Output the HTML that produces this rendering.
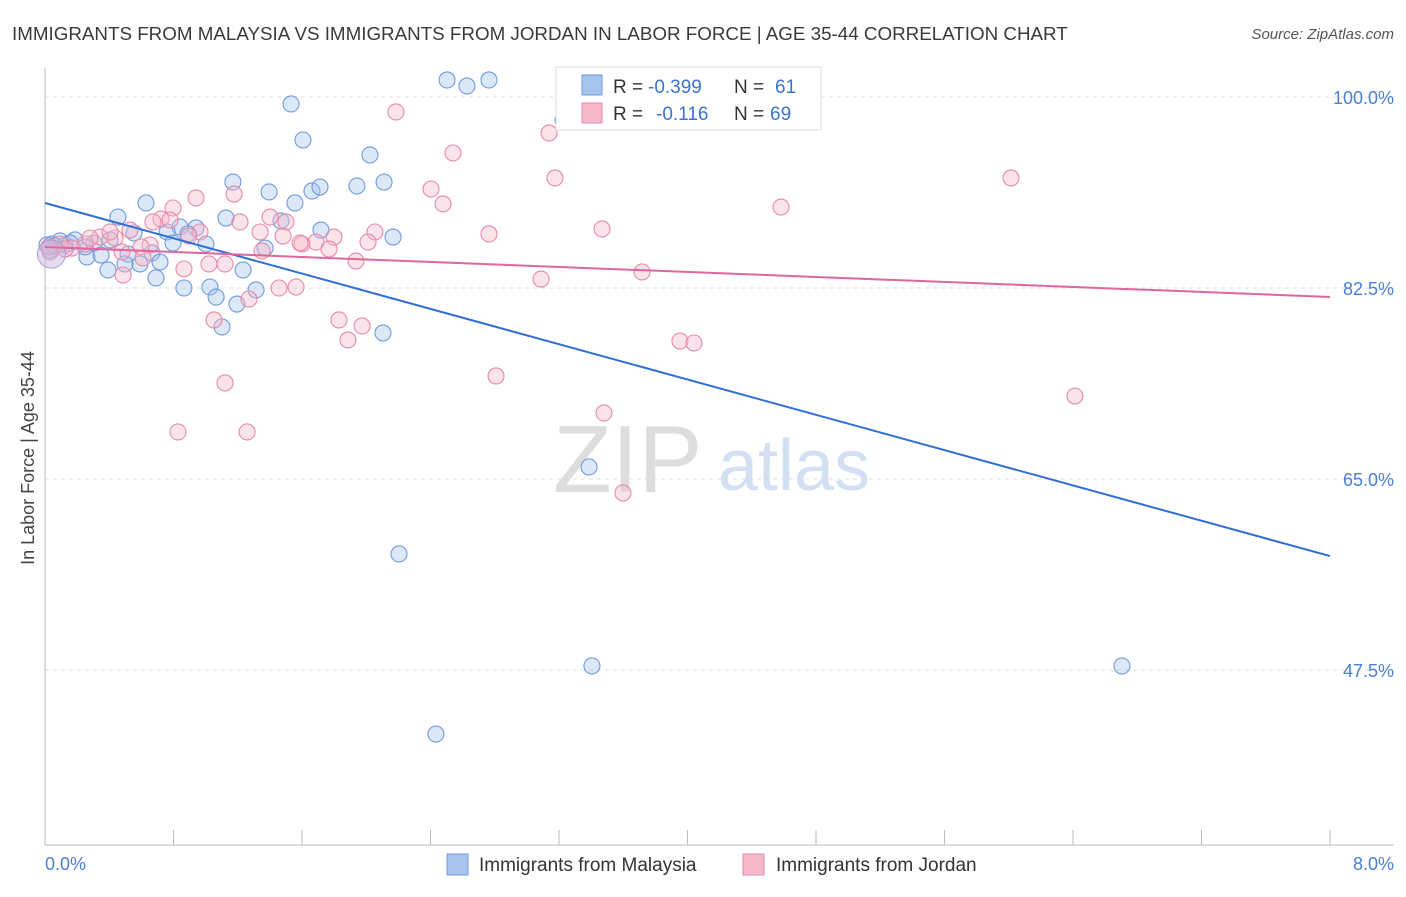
<!DOCTYPE html>
<html><head><meta charset="utf-8"><style>
body{margin:0;background:#fff;font-family:"Liberation Sans",sans-serif}
svg text{font-family:"Liberation Sans",sans-serif}
</style></head><body>
<svg id="chart" width="1406" height="892" xmlns="http://www.w3.org/2000/svg">
<text x="12" y="40" font-size="18.8" fill="#3a3a3a">IMMIGRANTS FROM MALAYSIA VS IMMIGRANTS FROM JORDAN IN LABOR FORCE | AGE 35-44 CORRELATION CHART</text>
<text x="1394" y="39" font-size="15" fill="#555" text-anchor="end" font-style="italic">Source: ZipAtlas.com</text>
<text x="553" y="492" font-size="96" fill="#ddd" font-family="Liberation Serif">ZIP</text>
<text x="718" y="490" font-size="72" fill="#d3e0f3">atlas</text>
<g id="grid"></g><g id="axes"></g><g id="pts"></g><g id="lines"></g>
<text transform="translate(34,458) rotate(-90)" font-size="18" fill="#444" text-anchor="middle">In Labor Force | Age 35-44</text>
<text x="45" y="870" font-size="18" fill="#4a7fd4">0.0%</text>
<text x="1394" y="870" font-size="18" fill="#4a7fd4" text-anchor="end">8.0%</text>
<g font-size="19">
<rect x="556" y="67" width="265" height="63" fill="#fff" stroke="#ddd"/>
<rect x="582" y="75" width="20" height="20" fill="#a8c4ec" stroke="#6f9be0"/>
<rect x="582" y="103" width="20" height="20" fill="#f5b8cb" stroke="#e88aa8"/>
<text x="613" y="93" fill="#333">R =</text><text x="648" y="93" fill="#3b73d1">-0.399</text>
<text x="734" y="93" fill="#333">N =</text><text x="775" y="93" fill="#3b73d1">61</text>
<text x="613" y="120" fill="#333">R =</text><text x="656" y="120" fill="#3b73d1">-0.116</text>
<text x="734" y="120" fill="#333">N =</text><text x="770" y="120" fill="#3b73d1">69</text>
</g>
<g>
<rect x="447" y="854" width="21" height="21" fill="#a8c4ec" stroke="#6f9be0"/>
<text x="479" y="871" font-size="19" fill="#333">Immigrants from Malaysia</text>
<rect x="743" y="854" width="21" height="21" fill="#f5b8cb" stroke="#e88aa8"/>
<text x="776" y="871" font-size="19" fill="#333">Immigrants from Jordan</text>
</g>
</svg>
<script>
const yTicks=[100,82.5,65,47.5];
const xTicks=[0,0.8,1.6,2.4,3.2,4.0,4.8,5.6,6.4,7.2,8.0];
const bluePx=[[447,80],[467,86],[489,80],[291,104],[303,140],[370,155],[233,182],[269,192],[312,191],[320,187],[357,186],[384,182],[146,203],[295,203],[118,217],[226,218],[281,221],[321,230],[393,237],[180,227],[196,228],[167,232],[188,234],[206,244],[173,243],[134,233],[110,240],[94,243],[75,240],[60,241],[52,244],[65,245],[50,250],[87,257],[101,255],[128,254],[152,253],[140,264],[108,270],[125,264],[160,262],[243,270],[265,248],[156,278],[184,288],[210,287],[216,297],[237,304],[256,290],[222,327],[383,333],[589,467],[399,554],[592,666],[1122,666],[436,734],[563,120],[55,246],[70,243],[85,247],[47,245]];
const pinkPx=[[396,112],[549,133],[453,153],[555,178],[1011,178],[431,189],[443,204],[781,207],[234,194],[196,198],[173,208],[161,219],[240,222],[270,217],[286,222],[260,232],[602,229],[489,234],[375,232],[368,242],[334,237],[316,242],[302,244],[329,249],[283,236],[200,232],[189,236],[150,245],[141,247],[130,230],[115,238],[100,237],[122,252],[85,244],[72,248],[60,244],[50,252],[356,261],[209,264],[225,264],[184,269],[123,275],[642,272],[541,279],[296,287],[279,288],[249,299],[214,320],[339,320],[362,326],[348,340],[680,341],[694,343],[496,376],[225,383],[1075,396],[604,413],[178,432],[247,432],[623,493],[153,222],[170,220],[110,232],[90,238],[143,258],[300,243],[262,251],[49,247],[65,249]];
const blueX=bluePx.map(p=>+((p[0]-45)/160.625).toFixed(3));
const blueY=bluePx.map(p=>+(100-(p[1]-97)/10.914).toFixed(2));
const pinkX=pinkPx.map(p=>+((p[0]-45)/160.625).toFixed(3));
const pinkY=pinkPx.map(p=>+(100-(p[1]-97)/10.914).toFixed(2));
const blueTrend=[90.29,57.94];
const pinkTrend=[86.26,81.68];
const X=v=>45+v*160.625, Y=v=>97+(100-v)*10.914;
const NS="http://www.w3.org/2000/svg";
function mk(t,a,par){const e=document.createElementNS(NS,t);for(const k in a)e.setAttribute(k,a[k]);document.getElementById(par).appendChild(e);return e;}
yTicks.forEach(v=>{
 const l=mk('line',{x1:45,x2:1394,y1:Y(v),y2:Y(v),stroke:'#ddd','stroke-dasharray':'4,4'},'grid');
 
 
 const t=mk('text',{x:1394,y:Y(v)+7,'font-size':18,fill:'#4a7fd4','text-anchor':'end'},'grid');t.textContent=v.toFixed(1)+'%';
 
 
});
const a=mk('line',{x1:45,x2:1394,y1:845,y2:845,stroke:'#bbb'},'axes');


const ay=mk('line',{x1:45,x2:45,y1:68,y2:845,stroke:'#bbb'},'axes');


xTicks.forEach(v=>{const t=mk('line',{x1:X(v),x2:X(v),y1:830,y2:845,stroke:'#bbb'},'axes');
 
 });
function pts(xs,ys,fill,stroke,name){xs.forEach((x,i)=>{const c=mk('circle',{cx:X(x),cy:Y(ys[i]),r:8,fill:fill,'fill-opacity':0.4,stroke:stroke,'stroke-width':1.1},'pts');
 
 });}
pts(blueX,blueY,'#a8c4ec','#6f9be0','malaysia-point');
pts(pinkX,pinkY,'#f5b8cb','#e88aa8','jordan-point');
const big=mk('circle',{cx:X(0.04),cy:Y(85.6),r:14,fill:'#c9b8e0','fill-opacity':0.5,stroke:'#a89bd6'},'pts');


const bl=mk('line',{x1:X(0),y1:Y(blueTrend[0]),x2:X(8),y2:Y(blueTrend[1]),stroke:'#2f6fd6','stroke-width':2},'lines');


const pl=mk('line',{x1:X(0),y1:Y(pinkTrend[0]),x2:X(8),y2:Y(pinkTrend[1]),stroke:'#e0679a','stroke-width':2},'lines');


</script>
</body></html>
